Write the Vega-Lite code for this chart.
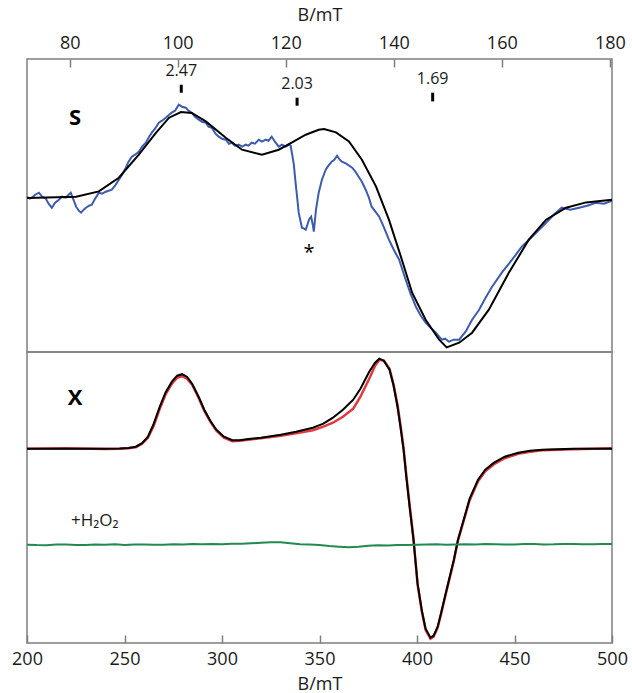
{
  "$schema": "https://vega.github.io/schema/vega-lite/v6.json",
  "padding": {"left": 10, "top": 5, "right": 0, "bottom": 0},
  "spacing": 0,
  "bounds": "flush",
  "config": {
    "view": {"stroke": "#7f7f7f", "strokeWidth": 1.5},
    "font": "Open Sans",
    "text": {"font": "Open Sans"}
  },
  "datasets": {
    "sband": [
      {"series": "exp", "B": 72.1, "I": 3}, {"series": "exp", "B": 72.6, "I": 1}, {"series": "exp", "B": 73.0, "I": 2}, {"series": "exp", "B": 73.6, "I": 5},
      {"series": "exp", "B": 74.3, "I": 7}, {"series": "exp", "B": 74.9, "I": 3}, {"series": "exp", "B": 75.6, "I": 1}, {"series": "exp", "B": 76.1, "I": -4},
      {"series": "exp", "B": 76.7, "I": -8}, {"series": "exp", "B": 77.3, "I": -3}, {"series": "exp", "B": 78.0, "I": 0}, {"series": "exp", "B": 78.6, "I": 3},
      {"series": "exp", "B": 79.3, "I": 2}, {"series": "exp", "B": 79.8, "I": 5}, {"series": "exp", "B": 80.2, "I": 7}, {"series": "exp", "B": 80.7, "I": 0},
      {"series": "exp", "B": 81.2, "I": -7}, {"series": "exp", "B": 81.7, "I": -11}, {"series": "exp", "B": 82.1, "I": -13}, {"series": "exp", "B": 82.6, "I": -10},
      {"series": "exp", "B": 83.0, "I": -8}, {"series": "exp", "B": 83.6, "I": -6}, {"series": "exp", "B": 84.1, "I": -5}, {"series": "exp", "B": 84.7, "I": 1},
      {"series": "exp", "B": 85.4, "I": 7}, {"series": "exp", "B": 86.0, "I": 6}, {"series": "exp", "B": 86.7, "I": 8}, {"series": "exp", "B": 87.2, "I": 9},
      {"series": "exp", "B": 87.8, "I": 10}, {"series": "exp", "B": 88.4, "I": 14}, {"series": "exp", "B": 89.1, "I": 20}, {"series": "exp", "B": 89.7, "I": 25},
      {"series": "exp", "B": 90.4, "I": 32}, {"series": "exp", "B": 90.9, "I": 38}, {"series": "exp", "B": 91.5, "I": 43}, {"series": "exp", "B": 92.1, "I": 45},
      {"series": "exp", "B": 92.8, "I": 48}, {"series": "exp", "B": 93.4, "I": 53}, {"series": "exp", "B": 94.1, "I": 57}, {"series": "exp", "B": 94.6, "I": 62},
      {"series": "exp", "B": 95.2, "I": 67}, {"series": "exp", "B": 95.8, "I": 71}, {"series": "exp", "B": 96.5, "I": 77}, {"series": "exp", "B": 97.1, "I": 79},
      {"series": "exp", "B": 97.8, "I": 82}, {"series": "exp", "B": 98.4, "I": 85}, {"series": "exp", "B": 98.9, "I": 87}, {"series": "exp", "B": 99.5, "I": 89},
      {"series": "exp", "B": 100.2, "I": 95}, {"series": "exp", "B": 100.8, "I": 93}, {"series": "exp", "B": 101.5, "I": 92}, {"series": "exp", "B": 102.0, "I": 89},
      {"series": "exp", "B": 102.6, "I": 87}, {"series": "exp", "B": 103.2, "I": 83}, {"series": "exp", "B": 103.9, "I": 80}, {"series": "exp", "B": 104.5, "I": 78},
      {"series": "exp", "B": 105.2, "I": 77}, {"series": "exp", "B": 105.7, "I": 73}, {"series": "exp", "B": 106.3, "I": 72}, {"series": "exp", "B": 107.0, "I": 66},
      {"series": "exp", "B": 107.6, "I": 63}, {"series": "exp", "B": 108.2, "I": 61}, {"series": "exp", "B": 108.9, "I": 60}, {"series": "exp", "B": 109.5, "I": 56},
      {"series": "exp", "B": 110.0, "I": 57}, {"series": "exp", "B": 110.6, "I": 54}, {"series": "exp", "B": 111.3, "I": 55}, {"series": "exp", "B": 111.9, "I": 53},
      {"series": "exp", "B": 112.6, "I": 55}, {"series": "exp", "B": 113.1, "I": 54}, {"series": "exp", "B": 113.7, "I": 57}, {"series": "exp", "B": 114.3, "I": 56},
      {"series": "exp", "B": 115.0, "I": 60}, {"series": "exp", "B": 115.6, "I": 58}, {"series": "exp", "B": 116.3, "I": 60}, {"series": "exp", "B": 116.8, "I": 59},
      {"series": "exp", "B": 117.4, "I": 63}, {"series": "exp", "B": 118.0, "I": 58}, {"series": "exp", "B": 118.7, "I": 53}, {"series": "exp", "B": 119.3, "I": 55},
      {"series": "exp", "B": 120.0, "I": 53}, {"series": "exp", "B": 120.6, "I": 55}, {"series": "exp", "B": 120.9, "I": 54}, {"series": "exp", "B": 121.2, "I": 45},
      {"series": "exp", "B": 121.5, "I": 35}, {"series": "exp", "B": 121.8, "I": 18}, {"series": "exp", "B": 122.1, "I": 3}, {"series": "exp", "B": 122.4, "I": -13},
      {"series": "exp", "B": 122.8, "I": -23}, {"series": "exp", "B": 123.0, "I": -28}, {"series": "exp", "B": 123.4, "I": -29}, {"series": "exp", "B": 123.7, "I": -30},
      {"series": "exp", "B": 123.9, "I": -27}, {"series": "exp", "B": 124.3, "I": -20}, {"series": "exp", "B": 124.7, "I": -17}, {"series": "exp", "B": 125.0, "I": -25},
      {"series": "exp", "B": 125.2, "I": -32}, {"series": "exp", "B": 125.6, "I": -10}, {"series": "exp", "B": 126.1, "I": 7}, {"series": "exp", "B": 126.7, "I": 20},
      {"series": "exp", "B": 127.4, "I": 30}, {"series": "exp", "B": 127.9, "I": 34}, {"series": "exp", "B": 128.5, "I": 38}, {"series": "exp", "B": 129.0, "I": 40},
      {"series": "exp", "B": 129.5, "I": 44}, {"series": "exp", "B": 130.0, "I": 40}, {"series": "exp", "B": 130.4, "I": 38}, {"series": "exp", "B": 131.2, "I": 36},
      {"series": "exp", "B": 132.3, "I": 32}, {"series": "exp", "B": 132.9, "I": 28}, {"series": "exp", "B": 133.5, "I": 23}, {"series": "exp", "B": 134.1, "I": 18},
      {"series": "exp", "B": 134.8, "I": 10}, {"series": "exp", "B": 135.4, "I": 2}, {"series": "exp", "B": 135.9, "I": -7}, {"series": "exp", "B": 136.6, "I": -12},
      {"series": "exp", "B": 137.3, "I": -17}, {"series": "exp", "B": 138.2, "I": -28}, {"series": "exp", "B": 139.1, "I": -40}, {"series": "exp", "B": 140.0, "I": -50},
      {"series": "exp", "B": 141.0, "I": -60}, {"series": "exp", "B": 141.6, "I": -70}, {"series": "exp", "B": 142.2, "I": -80}, {"series": "exp", "B": 143.1, "I": -94},
      {"series": "exp", "B": 144.1, "I": -107}, {"series": "exp", "B": 145.0, "I": -116}, {"series": "exp", "B": 145.9, "I": -123}, {"series": "exp", "B": 146.8, "I": -128},
      {"series": "exp", "B": 147.8, "I": -133}, {"series": "exp", "B": 148.4, "I": -137}, {"series": "exp", "B": 148.9, "I": -140}, {"series": "exp", "B": 149.5, "I": -139},
      {"series": "exp", "B": 150.2, "I": -142}, {"series": "exp", "B": 151.1, "I": -140}, {"series": "exp", "B": 152.1, "I": -140}, {"series": "exp", "B": 152.7, "I": -136},
      {"series": "exp", "B": 153.3, "I": -132}, {"series": "exp", "B": 154.5, "I": -120}, {"series": "exp", "B": 155.8, "I": -110}, {"series": "exp", "B": 157.0, "I": -98},
      {"series": "exp", "B": 158.2, "I": -87}, {"series": "exp", "B": 160.0, "I": -73}, {"series": "exp", "B": 161.9, "I": -60}, {"series": "exp", "B": 163.7, "I": -47},
      {"series": "exp", "B": 165.6, "I": -37}, {"series": "exp", "B": 166.9, "I": -30}, {"series": "exp", "B": 168.2, "I": -23}, {"series": "exp", "B": 169.6, "I": -15},
      {"series": "exp", "B": 171.1, "I": -8}, {"series": "exp", "B": 172.7, "I": -10}, {"series": "exp", "B": 174.3, "I": -8}, {"series": "exp", "B": 175.8, "I": -6},
      {"series": "exp", "B": 177.4, "I": -3}, {"series": "exp", "B": 178.9, "I": -4}, {"series": "exp", "B": 180.4, "I": -1},
      {"series": "sim", "B": 72.1, "I": 1.7}, {"series": "sim", "B": 81.2, "I": 3}, {"series": "sim", "B": 85.4, "I": 8.3}, {"series": "sim", "B": 89.1, "I": 22},
      {"series": "sim", "B": 92.8, "I": 45}, {"series": "sim", "B": 96.0, "I": 67}, {"series": "sim", "B": 98.4, "I": 82}, {"series": "sim", "B": 100.6, "I": 87.7},
      {"series": "sim", "B": 102.6, "I": 86.7}, {"series": "sim", "B": 105.2, "I": 78.3}, {"series": "sim", "B": 108.9, "I": 62}, {"series": "sim", "B": 111.9, "I": 50},
      {"series": "sim", "B": 115.6, "I": 45}, {"series": "sim", "B": 118.7, "I": 50}, {"series": "sim", "B": 121.1, "I": 57}, {"series": "sim", "B": 123.7, "I": 65},
      {"series": "sim", "B": 126.1, "I": 70}, {"series": "sim", "B": 127.1, "I": 70.7}, {"series": "sim", "B": 129.3, "I": 67.3}, {"series": "sim", "B": 131.7, "I": 58.3},
      {"series": "sim", "B": 134.1, "I": 40}, {"series": "sim", "B": 136.7, "I": 13.3}, {"series": "sim", "B": 139.1, "I": -20}, {"series": "sim", "B": 141.5, "I": -60},
      {"series": "sim", "B": 143.4, "I": -93}, {"series": "sim", "B": 145.9, "I": -120}, {"series": "sim", "B": 148.4, "I": -140}, {"series": "sim", "B": 149.8, "I": -147.7},
      {"series": "sim", "B": 152.1, "I": -143}, {"series": "sim", "B": 154.5, "I": -133}, {"series": "sim", "B": 157.6, "I": -110}, {"series": "sim", "B": 161.3, "I": -73},
      {"series": "sim", "B": 165.0, "I": -40}, {"series": "sim", "B": 168.2, "I": -20}, {"series": "sim", "B": 171.9, "I": -8}, {"series": "sim", "B": 175.6, "I": -2.7},
      {"series": "sim", "B": 180.4, "I": 0}
    ],
    "gmarks": [
      {"B": 100.66, "top": 115, "bottom": 107, "labelY": 129, "label": "2.47"},
      {"B": 122.1, "top": 102, "bottom": 94, "labelY": 116, "label": "2.03"},
      {"B": 147.2, "top": 107, "bottom": 98.3, "labelY": 121, "label": "1.69"}
    ],
    "stext": [
      {"B": 81.0, "I": 82, "label": "S", "kind": "band"},
      {"B": 124.3, "I": -53, "label": "*", "kind": "star"}
    ],
    "xband": [
      {"series": "exp", "B": 200, "I": 0}, {"series": "exp", "B": 220, "I": 0.5}, {"series": "exp", "B": 240, "I": -0.3}, {"series": "exp", "B": 247.5, "I": 0},
      {"series": "exp", "B": 252, "I": 0.5}, {"series": "exp", "B": 255.8, "I": 1.5}, {"series": "exp", "B": 259, "I": 5}, {"series": "exp", "B": 262, "I": 11},
      {"series": "exp", "B": 265, "I": 23}, {"series": "exp", "B": 268.1, "I": 40}, {"series": "exp", "B": 271, "I": 54}, {"series": "exp", "B": 274.3, "I": 65},
      {"series": "exp", "B": 277, "I": 71}, {"series": "exp", "B": 279.5, "I": 72.5}, {"series": "exp", "B": 282, "I": 70}, {"series": "exp", "B": 284.7, "I": 64},
      {"series": "exp", "B": 288, "I": 51}, {"series": "exp", "B": 290.9, "I": 38}, {"series": "exp", "B": 294, "I": 27}, {"series": "exp", "B": 297.1, "I": 18},
      {"series": "exp", "B": 301, "I": 11}, {"series": "exp", "B": 305.3, "I": 7.5}, {"series": "exp", "B": 309, "I": 8}, {"series": "exp", "B": 313.6, "I": 9},
      {"series": "exp", "B": 320, "I": 10.5}, {"series": "exp", "B": 330.1, "I": 13}, {"series": "exp", "B": 338, "I": 15.5}, {"series": "exp", "B": 346.6, "I": 18.5},
      {"series": "exp", "B": 352, "I": 22}, {"series": "exp", "B": 356.9, "I": 26}, {"series": "exp", "B": 362, "I": 32}, {"series": "exp", "B": 367.3, "I": 40},
      {"series": "exp", "B": 371, "I": 52}, {"series": "exp", "B": 375.5, "I": 70}, {"series": "exp", "B": 378.5, "I": 83}, {"series": "exp", "B": 380.7, "I": 89},
      {"series": "exp", "B": 383, "I": 88}, {"series": "exp", "B": 385.9, "I": 80}, {"series": "exp", "B": 388, "I": 64}, {"series": "exp", "B": 390, "I": 44},
      {"series": "exp", "B": 391.5, "I": 24}, {"series": "exp", "B": 393.1, "I": 1}, {"series": "exp", "B": 394.5, "I": -26}, {"series": "exp", "B": 396.2, "I": -56},
      {"series": "exp", "B": 398.2, "I": -90}, {"series": "exp", "B": 400.3, "I": -136}, {"series": "exp", "B": 402.5, "I": -163}, {"series": "exp", "B": 404.4, "I": -181},
      {"series": "exp", "B": 406.9, "I": -190}, {"series": "exp", "B": 408.5, "I": -188}, {"series": "exp", "B": 410.6, "I": -179}, {"series": "exp", "B": 412.5, "I": -164},
      {"series": "exp", "B": 414.8, "I": -145}, {"series": "exp", "B": 418.9, "I": -112}, {"series": "exp", "B": 421, "I": -92}, {"series": "exp", "B": 424.1, "I": -71},
      {"series": "exp", "B": 427, "I": -51.5}, {"series": "exp", "B": 431.3, "I": -32.5}, {"series": "exp", "B": 435, "I": -22.5}, {"series": "exp", "B": 439.5, "I": -15.5},
      {"series": "exp", "B": 445, "I": -9.5}, {"series": "exp", "B": 451.9, "I": -5}, {"series": "exp", "B": 458, "I": -3}, {"series": "exp", "B": 464.3, "I": -1.5},
      {"series": "exp", "B": 480, "I": -0.5}, {"series": "exp", "B": 500, "I": 0.5},
      {"series": "sim", "B": 200, "I": 0}, {"series": "sim", "B": 220, "I": 0}, {"series": "sim", "B": 240, "I": 0}, {"series": "sim", "B": 247.5, "I": 0.3},
      {"series": "sim", "B": 252, "I": 0.8}, {"series": "sim", "B": 255.8, "I": 2}, {"series": "sim", "B": 259, "I": 5.5}, {"series": "sim", "B": 262, "I": 12},
      {"series": "sim", "B": 265, "I": 25}, {"series": "sim", "B": 268.1, "I": 42}, {"series": "sim", "B": 271, "I": 56}, {"series": "sim", "B": 274.3, "I": 67},
      {"series": "sim", "B": 277, "I": 73}, {"series": "sim", "B": 279.5, "I": 74.5}, {"series": "sim", "B": 282, "I": 72}, {"series": "sim", "B": 284.7, "I": 65},
      {"series": "sim", "B": 288, "I": 52}, {"series": "sim", "B": 290.9, "I": 39}, {"series": "sim", "B": 294, "I": 28}, {"series": "sim", "B": 297.1, "I": 19},
      {"series": "sim", "B": 301, "I": 12}, {"series": "sim", "B": 305.3, "I": 8.5}, {"series": "sim", "B": 309, "I": 8.5}, {"series": "sim", "B": 313.6, "I": 9.7},
      {"series": "sim", "B": 320, "I": 11}, {"series": "sim", "B": 330.1, "I": 14}, {"series": "sim", "B": 338, "I": 17}, {"series": "sim", "B": 346.6, "I": 21},
      {"series": "sim", "B": 352, "I": 25}, {"series": "sim", "B": 356.9, "I": 31}, {"series": "sim", "B": 362, "I": 39}, {"series": "sim", "B": 367.3, "I": 49},
      {"series": "sim", "B": 371, "I": 60}, {"series": "sim", "B": 375.5, "I": 77}, {"series": "sim", "B": 378.5, "I": 86}, {"series": "sim", "B": 380.7, "I": 90},
      {"series": "sim", "B": 383, "I": 88}, {"series": "sim", "B": 385.9, "I": 79}, {"series": "sim", "B": 388, "I": 63}, {"series": "sim", "B": 390, "I": 42},
      {"series": "sim", "B": 391.5, "I": 22}, {"series": "sim", "B": 393.1, "I": -1}, {"series": "sim", "B": 394.5, "I": -28}, {"series": "sim", "B": 396.2, "I": -58},
      {"series": "sim", "B": 398.2, "I": -91}, {"series": "sim", "B": 400.3, "I": -135}, {"series": "sim", "B": 402.5, "I": -162}, {"series": "sim", "B": 404.4, "I": -180},
      {"series": "sim", "B": 406.9, "I": -189}, {"series": "sim", "B": 408.5, "I": -187}, {"series": "sim", "B": 410.6, "I": -178}, {"series": "sim", "B": 412.5, "I": -163},
      {"series": "sim", "B": 414.8, "I": -144}, {"series": "sim", "B": 418.9, "I": -111}, {"series": "sim", "B": 421, "I": -91}, {"series": "sim", "B": 424.1, "I": -70},
      {"series": "sim", "B": 427, "I": -50}, {"series": "sim", "B": 431.3, "I": -31}, {"series": "sim", "B": 435, "I": -21}, {"series": "sim", "B": 439.5, "I": -14},
      {"series": "sim", "B": 445, "I": -8}, {"series": "sim", "B": 451.9, "I": -4}, {"series": "sim", "B": 458, "I": -2}, {"series": "sim", "B": 464.3, "I": -1},
      {"series": "sim", "B": 480, "I": 0}, {"series": "sim", "B": 500, "I": 0},
      {"series": "h2o2", "B": 200, "I": -96}, {"series": "h2o2", "B": 205, "I": -96.4}, {"series": "h2o2", "B": 210, "I": -96.5}, {"series": "h2o2", "B": 215, "I": -95.9},
      {"series": "h2o2", "B": 220, "I": -95.8}, {"series": "h2o2", "B": 225, "I": -96.4}, {"series": "h2o2", "B": 230, "I": -96.3}, {"series": "h2o2", "B": 235, "I": -95.7},
      {"series": "h2o2", "B": 240, "I": -96}, {"series": "h2o2", "B": 245, "I": -95.6}, {"series": "h2o2", "B": 250, "I": -96.2}, {"series": "h2o2", "B": 255, "I": -95.9},
      {"series": "h2o2", "B": 260, "I": -95.7}, {"series": "h2o2", "B": 265, "I": -96.1}, {"series": "h2o2", "B": 270, "I": -96}, {"series": "h2o2", "B": 275, "I": -95.5},
      {"series": "h2o2", "B": 280, "I": -95.8}, {"series": "h2o2", "B": 285, "I": -95.4}, {"series": "h2o2", "B": 290, "I": -95.6}, {"series": "h2o2", "B": 295, "I": -95.2},
      {"series": "h2o2", "B": 300, "I": -95.5}, {"series": "h2o2", "B": 305, "I": -95.1}, {"series": "h2o2", "B": 310, "I": -95}, {"series": "h2o2", "B": 315, "I": -94.6},
      {"series": "h2o2", "B": 320, "I": -94}, {"series": "h2o2", "B": 325, "I": -93.5}, {"series": "h2o2", "B": 330, "I": -93.6}, {"series": "h2o2", "B": 335, "I": -94.5},
      {"series": "h2o2", "B": 340, "I": -95.5}, {"series": "h2o2", "B": 345, "I": -95.8}, {"series": "h2o2", "B": 350, "I": -96.2}, {"series": "h2o2", "B": 355, "I": -97.3},
      {"series": "h2o2", "B": 360, "I": -98}, {"series": "h2o2", "B": 365, "I": -98.6}, {"series": "h2o2", "B": 370, "I": -98}, {"series": "h2o2", "B": 375, "I": -97},
      {"series": "h2o2", "B": 380, "I": -96.5}, {"series": "h2o2", "B": 385, "I": -96.7}, {"series": "h2o2", "B": 390, "I": -96.2}, {"series": "h2o2", "B": 395, "I": -96.4},
      {"series": "h2o2", "B": 400, "I": -96}, {"series": "h2o2", "B": 405, "I": -95.8}, {"series": "h2o2", "B": 410, "I": -95.6}, {"series": "h2o2", "B": 415, "I": -96},
      {"series": "h2o2", "B": 420, "I": -95.9}, {"series": "h2o2", "B": 425, "I": -95.6}, {"series": "h2o2", "B": 430, "I": -95.8}, {"series": "h2o2", "B": 435, "I": -95.4},
      {"series": "h2o2", "B": 440, "I": -95.5}, {"series": "h2o2", "B": 445, "I": -95.8}, {"series": "h2o2", "B": 450, "I": -95.7}, {"series": "h2o2", "B": 455, "I": -95.3},
      {"series": "h2o2", "B": 460, "I": -95.4}, {"series": "h2o2", "B": 465, "I": -95.7}, {"series": "h2o2", "B": 470, "I": -95.6}, {"series": "h2o2", "B": 475, "I": -95.2},
      {"series": "h2o2", "B": 480, "I": -95.3}, {"series": "h2o2", "B": 485, "I": -95.6}, {"series": "h2o2", "B": 490, "I": -95.5}, {"series": "h2o2", "B": 495, "I": -95.2},
      {"series": "h2o2", "B": 500, "I": -95.3}
    ],
    "xtext": [
      {"B": 224.6, "I": 51, "label": "X", "kind": "band"},
      {"B": 222.6, "I": -72, "label": "+H₂O₂", "kind": "treat"}
    ]
  },
  "vconcat": [
    {
      "width": 585,
      "height": 293,
      "layer": [
        {
          "data": {"name": "sband"},
          "transform": [{"filter": "datum.series === 'exp'"}],
          "mark": {"type": "line", "color": "#3d5cb0", "strokeWidth": 2},
          "encoding": {
            "x": {"field": "B", "type": "quantitative",
                  "scale": {"domain": [72.1, 180.4], "nice": false, "zero": false},
                  "axis": {"orient": "top", "title": "B/mT", "values": [80, 100, 120, 140, 160, 180],
                           "tickSize": -8, "tickColor": "#7f7f7f", "tickWidth": 1.5, "domain": false, "grid": false,
                           "labelFlush": false, "labelFontSize": 18, "labelColor": "#1a1a1a", "labelPadding": 15, "labelFont": "Open Sans",
                           "titleFontSize": 18, "titleFontWeight": "normal", "titleColor": "#1a1a1a", "titlePadding": 10, "titleFont": "Open Sans"}},
            "y": {"field": "I", "type": "quantitative", "scale": {"domain": [-152.3, 140.7], "nice": false, "zero": false}, "axis": null}
          }
        },
        {
          "data": {"name": "sband"},
          "transform": [{"filter": "datum.series === 'sim'"}],
          "mark": {"type": "line", "color": "#000000", "strokeWidth": 2},
          "encoding": {
            "x": {"field": "B", "type": "quantitative"},
            "y": {"field": "I", "type": "quantitative", "axis": null}
          }
        },
        {
          "data": {"name": "gmarks"},
          "mark": {"type": "rule", "color": "#000000", "strokeWidth": 3},
          "encoding": {
            "x": {"field": "B", "type": "quantitative"},
            "y": {"field": "top", "type": "quantitative", "axis": null},
            "y2": {"field": "bottom"}
          }
        },
        {
          "data": {"name": "gmarks"},
          "mark": {"type": "text", "fontSize": 16, "color": "#1a1a1a", "baseline": "middle", "align": "center"},
          "encoding": {
            "x": {"field": "B", "type": "quantitative"},
            "y": {"field": "labelY", "type": "quantitative", "axis": null},
            "text": {"field": "label"}
          }
        },
        {
          "data": {"name": "stext"},
          "transform": [{"filter": "datum.kind === 'band'"}],
          "mark": {"type": "text", "fontSize": 22, "fontWeight": "bold", "color": "#000000", "baseline": "middle", "align": "center"},
          "encoding": {
            "x": {"field": "B", "type": "quantitative"},
            "y": {"field": "I", "type": "quantitative", "axis": null},
            "text": {"field": "label"}
          }
        },
        {
          "data": {"name": "stext"},
          "transform": [{"filter": "datum.kind === 'star'"}],
          "mark": {"type": "text", "fontSize": 20, "color": "#000000", "baseline": "middle", "align": "center"},
          "encoding": {
            "x": {"field": "B", "type": "quantitative"},
            "y": {"field": "I", "type": "quantitative", "axis": null},
            "text": {"field": "label"}
          }
        }
      ]
    },
    {
      "width": 585,
      "height": 291,
      "layer": [
        {
          "data": {"name": "xband"},
          "transform": [{"filter": "datum.series === 'exp'"}],
          "mark": {"type": "line", "color": "#e0393e", "strokeWidth": 2.5},
          "encoding": {
            "x": {"field": "B", "type": "quantitative",
                  "scale": {"domain": [200, 500], "nice": false, "zero": false},
                  "axis": {"orient": "bottom", "title": "B/mT", "values": [200, 250, 300, 350, 400, 450, 500],
                           "tickSize": -8, "tickColor": "#7f7f7f", "tickWidth": 1.5, "domain": false, "grid": false,
                           "labelFlush": false, "labelFontSize": 18, "labelColor": "#1a1a1a", "labelPadding": 15, "labelFont": "Open Sans",
                           "titleFontSize": 18, "titleFontWeight": "normal", "titleColor": "#1a1a1a", "titlePadding": 7, "titleFont": "Open Sans"}},
            "y": {"field": "I", "type": "quantitative", "scale": {"domain": [-194.3, 96.7], "nice": false, "zero": false}, "axis": null}
          }
        },
        {
          "data": {"name": "xband"},
          "transform": [{"filter": "datum.series === 'sim'"}],
          "mark": {"type": "line", "color": "#000000", "strokeWidth": 2},
          "encoding": {
            "x": {"field": "B", "type": "quantitative"},
            "y": {"field": "I", "type": "quantitative", "axis": null}
          }
        },
        {
          "data": {"name": "xband"},
          "transform": [{"filter": "datum.series === 'h2o2'"}],
          "mark": {"type": "line", "color": "#238a4e", "strokeWidth": 2},
          "encoding": {
            "x": {"field": "B", "type": "quantitative"},
            "y": {"field": "I", "type": "quantitative", "axis": null}
          }
        },
        {
          "data": {"name": "xtext"},
          "transform": [{"filter": "datum.kind === 'band'"}],
          "mark": {"type": "text", "fontSize": 22, "fontWeight": "bold", "color": "#000000", "baseline": "middle", "align": "center"},
          "encoding": {
            "x": {"field": "B", "type": "quantitative"},
            "y": {"field": "I", "type": "quantitative", "axis": null},
            "text": {"field": "label"}
          }
        },
        {
          "data": {"name": "xtext"},
          "transform": [{"filter": "datum.kind === 'treat'"}],
          "mark": {"type": "text", "fontSize": 17, "color": "#1a1a1a", "baseline": "middle", "align": "left"},
          "encoding": {
            "x": {"field": "B", "type": "quantitative"},
            "y": {"field": "I", "type": "quantitative", "axis": null},
            "text": {"field": "label"}
          }
        }
      ]
    }
  ]
}
